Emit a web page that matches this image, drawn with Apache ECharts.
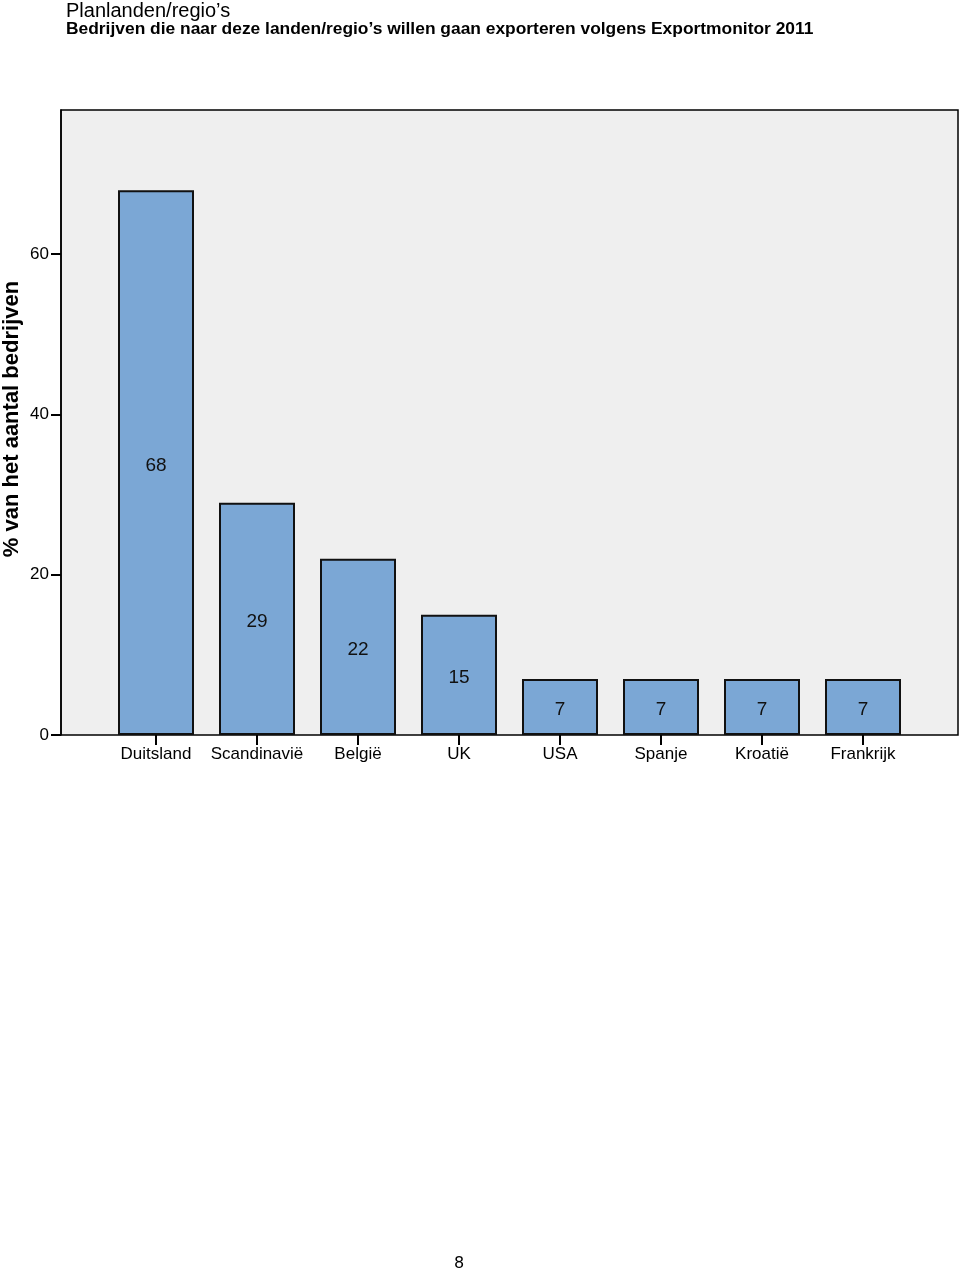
<!DOCTYPE html>
<html>
<head>
<meta charset="utf-8">
<script src="https://cdn.jsdelivr.net/npm/echarts@6/dist/echarts.min.js"></script>
<style>
html,body{margin:0;padding:0;background:#fff;}
#chart{width:960px;height:1270px;}
</style>
</head>
<body>
<div id="chart"></div>
<script>
const categories = ['Duitsland','Scandinavië','België','UK','USA','Spanje','Kroatië','Frankrijk'];
const values = [68, 29, 22, 15, 7, 7, 7, 7];
const yTicks = [0, 20, 40, 60];
const titleText = 'Planlanden/regio\u2019s';
const subtitleText = 'Bedrijven die naar deze landen/regio\u2019s willen gaan exporteren volgens Exportmonitor 2011';
const yTitle = '% van het aantal bedrijven';
const pageNumber = '8';

const FONT = 'Liberation Sans, Arial, sans-serif';
const chart = echarts.init(document.getElementById('chart'), null, {renderer:'canvas'});
const option = {
  backgroundColor: '#fff',
  animation: false,
  title: [
    {text: titleText, left: 61, top: -4, textStyle:{fontFamily:FONT, fontSize:20, fontWeight:'normal', color:'#000'}},
    {text: subtitleText, left: 61, top: 16, textStyle:{fontFamily:FONT, fontSize:17.4, fontWeight:'bold', color:'#000'}},
    {text: pageNumber, left: 449, top: 1251, textStyle:{fontFamily:'DejaVu Sans, sans-serif', fontSize:16, fontWeight:'normal', color:'#000'}}
  ],
  graphic: [{
    type: 'text', x: 12, y: 419, rotation: Math.PI / 2, silent: true,
    style: {text: yTitle, fill: '#000', font: 'bold 22px ' + FONT, textAlign: 'center', textVerticalAlign: 'middle'}
  }],
  grid: [
    {left: 61, right: 2, top: 110, bottom: 535, show: true, backgroundColor: '#efefef', borderColor: '#000', borderWidth: 1.5, containLabel: false, outerBoundsMode: 'none'},
    {left: 105.5, width: 808, top: 110, bottom: 535, containLabel: false, outerBoundsMode: 'none'}
  ],
  xAxis: [
    {type: 'value', gridIndex: 0, min: 0, max: 1, show: false},
    {type: 'category', gridIndex: 1, data: categories,
     axisLine: {show: false},
     axisTick: {show: true, alignWithLabel: true, interval: 0, length: 10, lineStyle: {color:'#000', width: 2}},
     axisLabel: {fontFamily: FONT, fontSize: 17, color: '#000', margin: 11, interval: 0}}
  ],
  yAxis: [
    {type: 'value', gridIndex: 0, min: 0, max: 78,
     axisLine: {show: true, lineStyle: {color: '#000', width: 1.5}},
     axisTick: {show: true, inside: false, length: 10, customValues: yTicks, lineStyle: {color:'#000', width: 2}},
     axisLabel: {fontFamily: FONT, fontSize: 17, color: '#000', margin: 12, customValues: yTicks},
     splitLine: {show: false}},
    {type: 'value', gridIndex: 1, min: 0, max: 78, show: false, splitLine:{show:false}}
  ],
  series: [{
    type: 'bar', xAxisIndex: 1, yAxisIndex: 1, data: values, barWidth: 76,
    itemStyle: {color: '#7ba7d5', borderColor: '#111', borderWidth: 2},
    label: {show: true, position: 'inside', fontFamily: FONT, fontSize: 19, color: '#111', offset: [0, 3]}
  }]
};
chart.setOption(option);
</script>
</body>
</html>
